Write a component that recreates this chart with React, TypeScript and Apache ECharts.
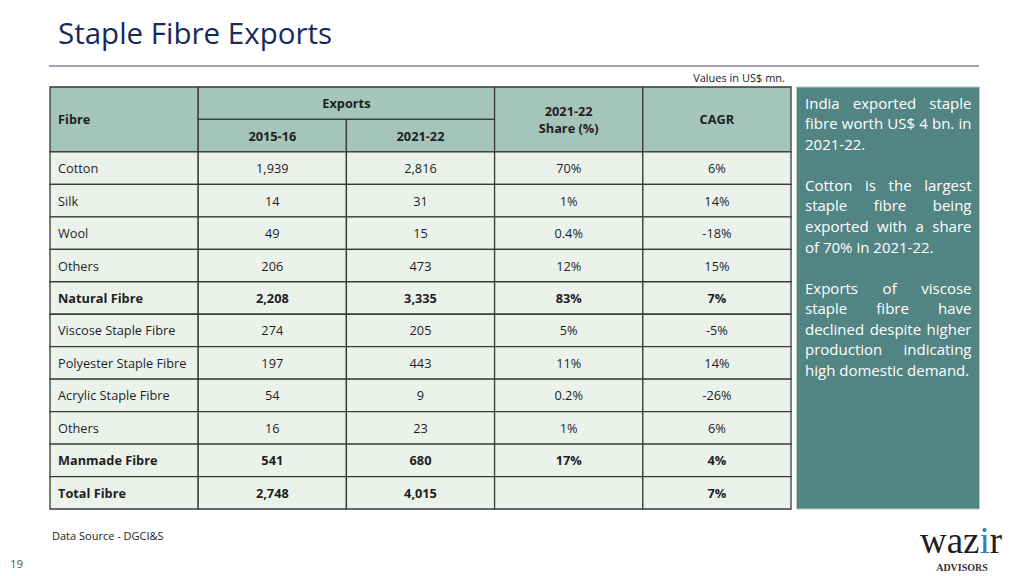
import React, { useEffect, useRef } from "react";
import * as echarts from "echarts";

// ---------- data ----------
const titleText = "Staple Fibre Exports";
const unitNote = "Values in US$ mn.";
const sourceNote = "Data Source - DGCI&S";
const pageNumber = "19";

const headerFibre = "Fibre";
const headerExports = "Exports";
const headerYears = ["2015-16", "2021-22"];
const headerShare = "2021-22\nShare (%)";
const headerCagr = "CAGR";

const fibres = [
  "Cotton",
  "Silk",
  "Wool",
  "Others",
  "Natural Fibre",
  "Viscose Staple Fibre",
  "Polyester Staple Fibre",
  "Acrylic Staple Fibre",
  "Others",
  "Manmade Fibre",
  "Total Fibre",
];
const exports2015 = [1939, 14, 49, 206, 2208, 274, 197, 54, 16, 541, 2748];
const exports2022 = [2816, 31, 15, 473, 3335, 205, 443, 9, 23, 680, 4015];
const share2022: (number | null)[] = [70, 1, 0.4, 12, 83, 5, 11, 0.2, 1, 17, null];
const cagr = [6, 14, -18, 15, 7, -5, 14, -26, 6, 4, 7];
const boldRows = [false, false, false, false, true, false, false, false, false, true, true];

const noteParagraphs = [
  ["India exported staple", "fibre worth US$ 4 bn. in", "2021-22."],
  ["Cotton is the largest", "staple fibre being", "exported with a share", "of 70% in 2021-22."],
  [
    "Exports of viscose",
    "staple fibre have",
    "declined despite higher",
    "production indicating",
    "high domestic demand.",
  ],
];

// ---------- styles ----------
const FONT = '"Open Sans", "Noto Sans", sans-serif';
const SERIF = '"Liberation Serif", "DejaVu Serif", serif';
const HEADER_FILL = "#a5c5bb";
const ROW_FILL = "#ebf2ec";
const BORDER = "#3a3a3a";
const PANEL_FILL = "#528483";
const TITLE_COLOR = "#172a5c";

type Cell = {
  c: number;
  r: number;
  cs: number;
  rs: number;
  text: string;
  header: boolean;
  bold: boolean;
  left: boolean;
};

function buildCells(): Cell[] {
  const cells: Cell[] = [];
  const h = (c: number, r: number, cs: number, rs: number, text: string, left = false) =>
    cells.push({ c, r, cs, rs, text, header: true, bold: true, left });
  h(0, 0, 1, 2, headerFibre, true);
  h(1, 0, 2, 1, headerExports);
  h(1, 1, 1, 1, headerYears[0]);
  h(2, 1, 1, 1, headerYears[1]);
  h(3, 0, 1, 2, headerShare);
  h(4, 0, 1, 2, headerCagr);
  const fmt = (n: number) => n.toLocaleString("en-US");
  fibres.forEach((f, i) => {
    const r = 2 + i;
    const b = boldRows[i];
    const row = [
      f,
      fmt(exports2015[i]),
      fmt(exports2022[i]),
      share2022[i] == null ? "" : `${share2022[i]}%`,
      `${cagr[i]}%`,
    ];
    row.forEach((t, c) =>
      cells.push({ c, r, cs: 1, rs: 1, text: t, header: false, bold: b, left: c === 0 })
    );
  });
  return cells;
}

export default function App() {
  const ref = useRef<HTMLDivElement>(null);

  useEffect(() => {
    if (!ref.current) return;
    const chart = echarts.init(ref.current, undefined, { renderer: "svg" });

    const canvas = document.createElement("canvas");
    const ctx = canvas.getContext("2d")!;
    const tw = (text: string, size: number, weight = "normal", family = FONT) => {
      ctx.font = `${weight} ${size}px ${family}`;
      return ctx.measureText(text).width;
    };
    const fit = (text: string, target: number, max: number, weight = "normal", family = FONT) => {
      let s = max;
      while (s > 6 && tw(text, s, weight, family) > target) s -= 0.25;
      return s;
    };

    const cells = buildCells();
    const tableSize = fit("Polyester Staple Fibre", 131, 14);
    const titleSize = fit(titleText, 276, 34);

    // side panel
    const pL = 805,
      pR = 971.5,
      pW = pR - pL;
    let panelSize = 16;
    noteParagraphs.forEach((p) => p.forEach((l) => (panelSize = Math.min(panelSize, fit(l, pW, 16)))));
    const lineH = 20.55;
    const firstY = 102.7;
    const panelTexts: any[] = [];
    let li = 0;
    noteParagraphs.forEach((para, pi) => {
      para.forEach((line, k) => {
        const y = firstY + li * lineH;
        const last = k === para.length - 1;
        const words = line.split(" ");
        if (last || words.length < 2) {
          panelTexts.push({
            type: "text",
            x: pL,
            y,
            style: { text: line, fill: "#ffffff", fontSize: panelSize, fontFamily: FONT, align: "left", verticalAlign: "middle" },
          });
        } else {
          const widths = words.map((w) => tw(w, panelSize));
          const total = widths.reduce((a, b) => a + b, 0);
          const gap = (pW - total) / (words.length - 1);
          let x = pL;
          words.forEach((w, wi) => {
            panelTexts.push({
              type: "text",
              x,
              y,
              style: { text: w, fill: "#ffffff", fontSize: panelSize, fontFamily: FONT, align: "left", verticalAlign: "middle" },
            });
            x += widths[wi] + gap;
          });
        }
        li++;
      });
      if (pi < noteParagraphs.length - 1) li++;
    });

    chart.setOption({
      animation: false,
      grid: { left: 50, right: 233, top: 87, bottom: 67, containLabel: false },
      xAxis: { type: "value", min: 0, max: 5, show: false },
      yAxis: { type: "value", min: 0, max: 13, inverse: true, show: false },
      series: [
        {
          type: "custom",
          clip: false,
          data: cells.map((c) => [c.c, c.r, c.cs, c.rs]),
          renderItem: (params: any, api: any) => {
            const cell = cells[params.dataIndex];
            const p0 = api.coord([cell.c, cell.r]);
            const p1 = api.coord([cell.c + cell.cs, cell.r + cell.rs]);
            const x = Math.min(p0[0], p1[0]);
            const y = Math.min(p0[1], p1[1]);
            const w = Math.abs(p1[0] - p0[0]);
            const h = Math.abs(p1[1] - p0[1]);
            return {
              type: "group",
              children: [
                {
                  type: "rect",
                  shape: { x, y, width: w, height: h },
                  style: { fill: cell.header ? HEADER_FILL : ROW_FILL, stroke: BORDER, lineWidth: 1.3 },
                },
                {
                  type: "text",
                  x: cell.left ? x + 8 : x + w / 2,
                  y: y + h / 2,
                  style: {
                    text: cell.text,
                    fill: "#1e1e1e",
                    fontSize: tableSize,
                    fontFamily: FONT,
                    fontWeight: cell.bold ? "bold" : "normal",
                    align: cell.left ? "left" : "center",
                    verticalAlign: "middle",
                    lineHeight: 17,
                  },
                },
              ],
            };
          },
        },
      ],
      graphic: [
        {
          type: "text",
          x: 58,
          y: 32,
          style: { text: titleText, fill: TITLE_COLOR, fontSize: titleSize, fontFamily: FONT, align: "left", verticalAlign: "middle" },
        },
        {
          type: "line",
          shape: { x1: 49, y1: 66, x2: 979, y2: 66 },
          style: { stroke: "#3e4a66", lineWidth: 1.2 },
        },
        {
          type: "text",
          x: 785,
          y: 77,
          style: { text: unitNote, fill: "#222", fontSize: 11, fontFamily: FONT, align: "right", verticalAlign: "middle" },
        },
        {
          type: "rect",
          shape: { x: 796.5, y: 87, width: 183, height: 422 },
          style: { fill: PANEL_FILL, stroke: "#b9cdb8", lineWidth: 1 },
        },
        ...panelTexts,
        {
          type: "text",
          x: 52,
          y: 535,
          style: { text: sourceNote, fill: "#222", fontSize: 11, fontFamily: FONT, align: "left", verticalAlign: "middle" },
        },
        {
          type: "text",
          x: 10,
          y: 563,
          style: { text: pageNumber, fill: "#555", fontSize: 11.5, fontFamily: FONT, align: "left", verticalAlign: "middle" },
        },
        {
          type: "text",
          x: 961,
          y: 540,
          style: {
            text: "{a|waz}{b|i}{a|r}",
            align: "center",
            verticalAlign: "middle",
            rich: {
              a: { fontSize: 37, lineHeight: 24, fontFamily: SERIF, fill: "#1f1f1f" },
              b: { fontSize: 37, lineHeight: 24, fontFamily: SERIF, fill: "#2d7fc0" },
            },
          },
        },
        {
          type: "text",
          x: 962,
          y: 567,
          style: {
            text: "ADVISORS",
            fill: "#333",
            fontSize: 10,
            fontWeight: "bold",
            fontFamily: SERIF,
            align: "center",
            verticalAlign: "middle",
          },
        },
      ],
    });

    return () => chart.dispose();
  }, []);

  return (
    <div
      ref={ref}
      style={{ position: "fixed", left: 0, top: 0, width: 1024, height: 576, background: "#ffffff" }}
    />
  );
}
